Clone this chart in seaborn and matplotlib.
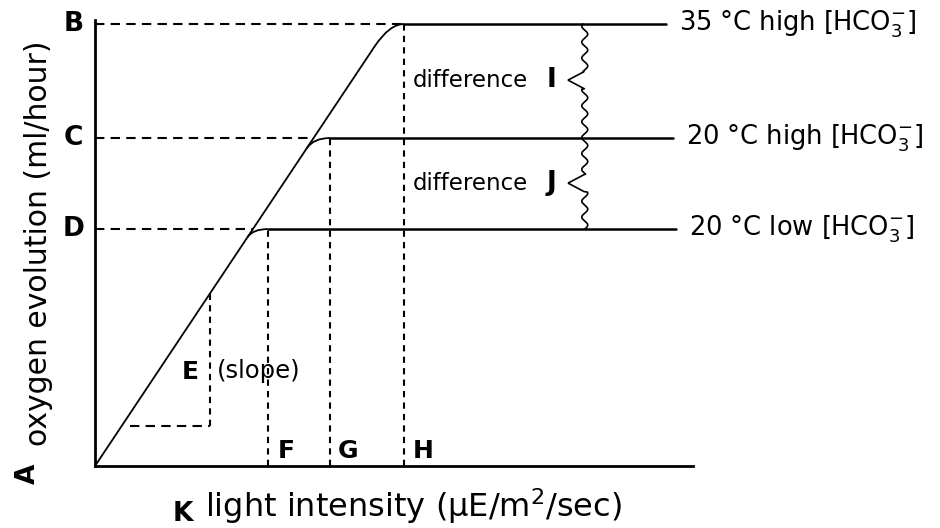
import numpy as np
import pandas as pd
import matplotlib
matplotlib.use("Agg")
import matplotlib.pyplot as plt
import seaborn as sns
from matplotlib.path import Path
from matplotlib.patches import PathPatch

# ---------------- data (schematic units: light 0-100, O2 0-100) ----------------
curve_labels = ["35 °C high [HCO$_3^{-}$]", "20 °C high [HCO$_3^{-}$]", "20 °C low [HCO$_3^{-}$]"]
level_letters = ["B", "C", "D"]
sat_letters = ["H", "G", "F"]
plateau_levels = [100.0, 74.2, 53.6]      # oxygen evolution at saturation
saturation_x = [51.7, 39.3, 28.9]         # light intensity where plateau starts
plateau_end_x = [95.5, 96.7, 97.2]
branch_y = [95.0, 71.9, 51.8]             # where each curve leaves the initial slope
initial_slope = 2.03                      # E (slope)
slope_tri_x = [5.85, 19.2]
slope_tri_y = 9.05
squiggle_x = 81.9
diff_letters = ["I", "J"]
diff_y = [87.3, 64.0]

sns.set_theme(style="white")
plt.rcParams['font.family'] = ['DejaVu Sans']
plt.rcParams['text.color'] = 'black'

fig = plt.figure(figsize=(9.4, 5.28), dpi=100)
W, H = 940, 528
x0, x1, yb, yt = 95, 693, 466, 20
ax = fig.add_axes([x0 / W, (H - yb) / H, (x1 - x0) / W, (yb - yt) / H])
ax.set_xlim(0, 100)
ax.set_ylim(0, 100 * (yb - yt) / (yb - 24))
ax.set_xticks([])
ax.set_yticks([])
for s in ["top", "right"]:
    ax.spines[s].set_visible(False)
for s in ["left", "bottom"]:
    ax.spines[s].set_linewidth(2.0)
    ax.spines[s].set_color("black")

line_kw = dict(color="black", legend=False, ax=ax)
TK = dict(color="black")

# initial linear rise (shared part)
bx = branch_y[0] / initial_slope
diag = pd.DataFrame({"x": [0.0, bx], "y": [0.0, branch_y[0]]})
sns.lineplot(data=diag, x="x", y="y", linewidth=1.3, **line_kw)

for lvl, sx, ex, by, lab in zip(plateau_levels, saturation_x, plateau_end_x, branch_y, curve_labels):
    # rounded transition from slope to plateau
    p0 = (by / initial_slope, by)
    p1 = (lvl / initial_slope, lvl)
    p2 = (sx, lvl)
    path = Path([p0, p1, p2], [Path.MOVETO, Path.CURVE3, Path.CURVE3])
    ax.add_patch(PathPatch(path, fill=False, lw=1.3, edgecolor="black", clip_on=False))
    plat = pd.DataFrame({"x": [sx, ex], "y": [lvl, lvl]})
    sns.lineplot(data=plat, x="x", y="y", linewidth=1.8, **line_kw)
    ax.text(ex + 2.2, lvl, lab, ha="left", va="center", fontsize=18.5, **TK)

# dashed guides
dash_h = dict(color="black", lw=1.5, dashes=(4.5, 3))
dash_v = dict(color="black", lw=1.5, dashes=(3, 2.5))
hx_ends = [saturation_x[0], plateau_levels[1] / initial_slope, plateau_levels[2] / initial_slope]
for lvl, he, sx, L, SL in zip(plateau_levels, hx_ends, saturation_x, level_letters, sat_letters):
    ax.plot([0, he], [lvl, lvl], **dash_h, clip_on=False)
    ax.plot([sx, sx], [0, lvl], **dash_v)
    ax.text(-3.6, lvl, L, ha="center", va="center", fontsize=19, fontweight="bold", **TK)
    ax.text(sx + 3.1, 3.4, SL, ha="center", va="center", fontsize=18, fontweight="bold", **TK)

# slope triangle
ax.plot(slope_tri_x, [slope_tri_y, slope_tri_y], **dash_h)
ax.plot([slope_tri_x[1]] * 2, [slope_tri_y, slope_tri_x[1] * initial_slope], **dash_v)
ax.text(15.9, 21.3, "E", ha="center", va="center", fontsize=18, fontweight="bold", **TK)
ax.text(20.4, 21.6, "(slope)", ha="left", va="center", fontsize=17.5, **TK)

# difference squiggle
ys = np.linspace(plateau_levels[2], plateau_levels[0], 400)
xs = squiggle_x + 0.5 * np.sin((ys - plateau_levels[2]) * 2 * np.pi / 3.6)
for dy in diff_y:
    m = np.abs(ys - dy) < 2.0
    xs[m] = squiggle_x - 2.8 * (1 - np.abs(ys[m] - dy) / 2.0)
ax.plot(xs, ys, color="black", lw=1.2, clip_on=False)
for dy, DL in zip(diff_y, diff_letters):
    ax.text(53.2, dy, "difference", ha="left", va="center", fontsize=16.5, **TK)
    ax.text(76.4, dy, DL, ha="center", va="center", fontsize=19, fontweight="bold", **TK)

# axis labels
ax.text(-9.4, 50.5, "oxygen evolution (ml/hour)", rotation=90, ha="center", va="center", fontsize=21.5, **TK)
ax.text(-11.2, -1.8, "A", rotation=90, ha="center", va="center", fontsize=19, fontweight="bold", **TK)
ax.text(14.7, -10.8, "K", ha="center", va="center", fontsize=19, fontweight="bold", **TK)
ax.text(18.4, -9.0, "light intensity (μE/m$^2$/sec)", ha="left", va="center", fontsize=23, **TK)

fig.savefig("out.png", dpi=100)
